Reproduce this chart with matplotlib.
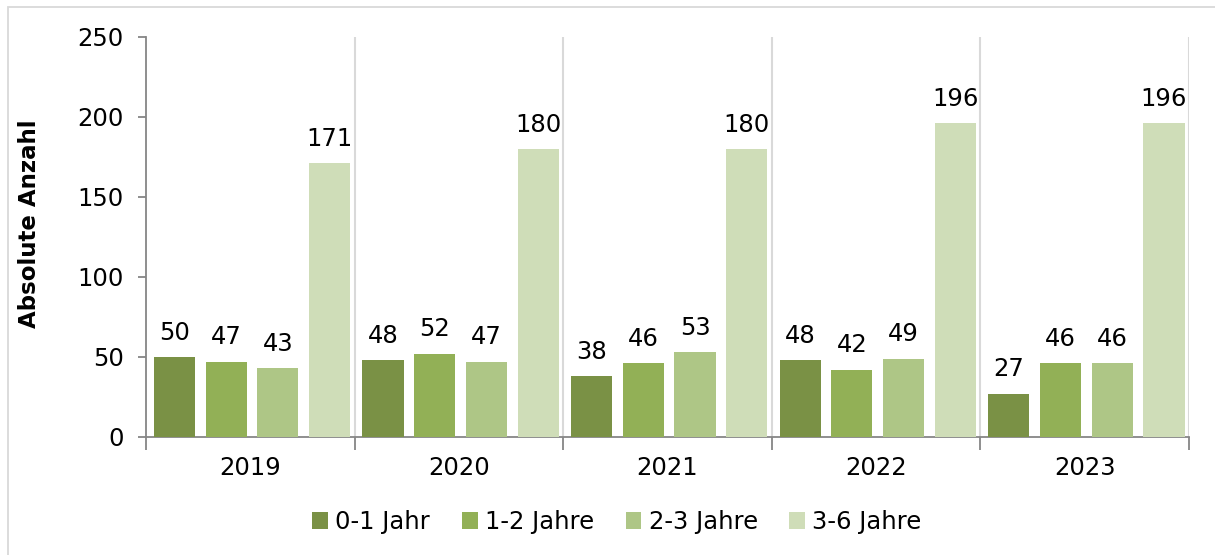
import numpy as np
import matplotlib
matplotlib.use("Agg")
import matplotlib.pyplot as plt
from matplotlib.patches import Rectangle

# Jahre und Anzahl je Altersgruppe
years = ["2019", "2020", "2021", "2022", "2023"]
groups = ["0-1 Jahr", "1-2 Jahre", "2-3 Jahre", "3-6 Jahre"]
age_0_1 = [50, 48, 38, 48, 27]
age_1_2 = [47, 52, 46, 42, 46]
age_2_3 = [43, 47, 53, 49, 46]
age_3_6 = [171, 180, 180, 196, 196]

colors = ["#7a9145", "#92b056", "#aec686", "#cfddb8"]
fs = 17.5

plt.rcParams['font.family'] = ['DejaVu Sans']
fig = plt.figure(figsize=(12.15, 5.55), dpi=100)
ax = fig.add_axes([146 / 1215, 1 - 437 / 555, (1189 - 146) / 1215, 400 / 555])

x = np.arange(len(years)) + 0.5
step = 0.248
width = 0.197
series = [age_0_1, age_1_2, age_2_3, age_3_6]
for k, (vals, name, col) in enumerate(zip(series, groups, colors)):
    bars = ax.bar(x + 0.008 + (k - 1.5) * step, vals, width, color=col, label=name, zorder=3)
    ax.bar_label(bars, padding=9, fontsize=fs, color="black")

ax.set_xlim(0, len(years))
ax.set_ylim(0, 250)
ax.set_yticks(np.arange(0, 251, 50))

# Trennlinien zwischen den Jahren
ax.set_xticks(x)
ax.set_xticklabels(years)
ax.set_xticks(np.arange(0, len(years) + 1), minor=True)
ax.tick_params(axis="x", which="major", length=0, pad=14, labelsize=fs)
ax.tick_params(axis="x", which="minor", length=9, color="#868686", width=1.3)
ax.tick_params(axis="y", length=6, color="#868686", width=1.3, labelsize=fs, pad=10)
for b in range(1, len(years) + 1):
    ax.axvline(b, color="#d9d9d9", lw=1.5, zorder=1)

for side in ["top", "right"]:
    ax.spines[side].set_visible(False)
for side in ["left", "bottom"]:
    ax.spines[side].set_color("#868686")
    ax.spines[side].set_linewidth(1.3)

fig.text(30 / 1215, 1 - 224 / 555, "Absolute Anzahl", rotation=90, ha="center",
         va="center", fontsize=16.5, fontweight="bold")

fig.legend(loc="center", bbox_to_anchor=(617 / 1215, 1 - 522 / 555), ncol=4, frameon=False,
           fontsize=fs, handlelength=0.65, handleheight=0.65, handletextpad=0.3,
           columnspacing=1.3)

# Rahmen um das Diagramm
fig.patches.append(Rectangle((8 / 1215, -0.1), 1.2, 1 - 7 / 555 + 0.1, transform=fig.transFigure,
                             fill=False, edgecolor="#d9d9d9", lw=1.3))

fig.savefig("out.png", dpi=100)
